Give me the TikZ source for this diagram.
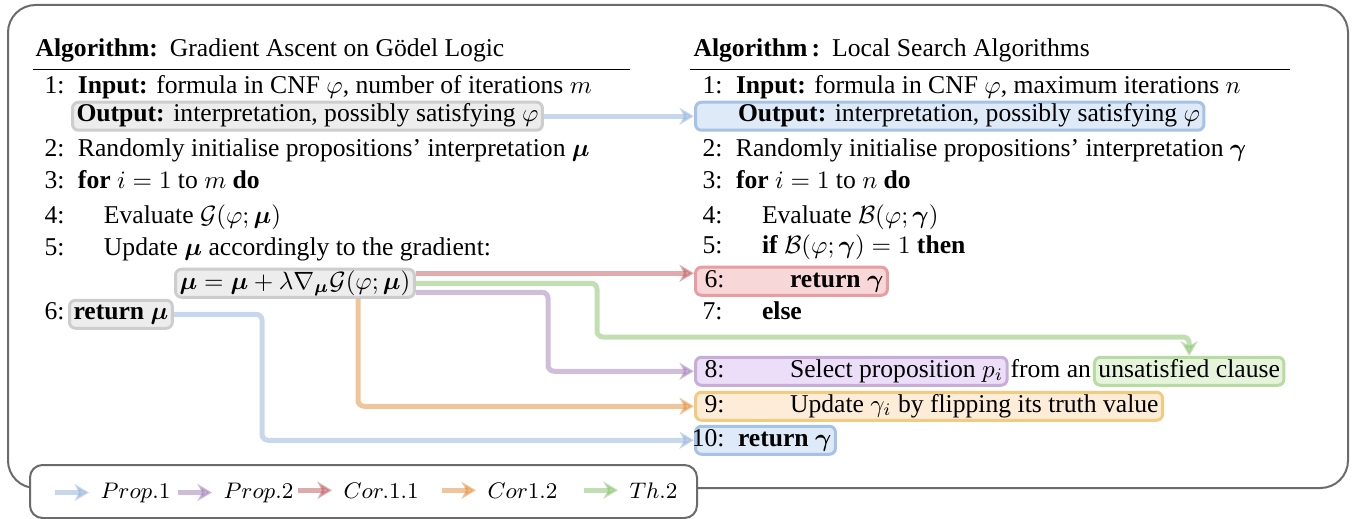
\documentclass[tikz,border=0pt]{standalone}
\usepackage{amsmath,amssymb}
\usepackage{fontspec}
\setmainfont{Liberation Serif}
\usetikzlibrary{arrows.meta,positioning}
\definecolor{Bl}{HTML}{8FB0DA}
\definecolor{Rd}{HTML}{C0575B}
\definecolor{Pu}{HTML}{A07BB5}
\definecolor{Or}{HTML}{E38C35}
\definecolor{Gr}{HTML}{86C06A}
\definecolor{Blf}{HTML}{DEEAF7}
\definecolor{Bld}{HTML}{A6C2E4}
\definecolor{Rdf}{HTML}{F8D7D9}
\definecolor{Rdd}{HTML}{E89DA1}
\definecolor{Puf}{HTML}{ECDEF8}
\definecolor{Pud}{HTML}{C7AED8}
\definecolor{Orf}{HTML}{FDECD7}
\definecolor{Ord}{HTML}{F2CB82}
\definecolor{Grf}{HTML}{E5F4DB}
\definecolor{Grd}{HTML}{B7DBA3}
\definecolor{Gyf}{HTML}{EDEDED}
\definecolor{Gyd}{HTML}{CDCDCD}
\definecolor{Fr}{HTML}{6B6B6B}
\tikzset{
  ln/.style={anchor=base west, inner sep=0pt},
  hl/.style={anchor=base west, rounded corners=2.4pt, line width=1.2pt,
    inner xsep=1.6pt, inner ysep=0.9pt, text height=7pt, text depth=2.4pt},
  hlG/.style={hl, fill=Gyf, draw=Gyd},
  hlB/.style={hl, fill=Blf, draw=Bld},
  hlR/.style={hl, fill=Rdf, draw=Rdd},
  hlP/.style={hl, fill=Puf, draw=Pud},
  hlO/.style={hl, fill=Orf, draw=Ord},
  hlV/.style={hl, fill=Grf, draw=Grd},
  link/.style={line width=2pt, opacity=.5, rounded corners=2.4pt,
    -{Stealth[length=5.8pt, width=6.8pt, inset=1.8pt]}},
  linkB/.style={link, draw=Bl},
  linkR/.style={link, draw=Rd},
  linkP/.style={link, draw=Pu},
  linkO/.style={link, draw=Or},
  linkV/.style={link, draw=Gr},
  key/.style={ln, font=\fontsize{8.6}{10}\selectfont},
  box/.style={draw=Fr, line width=0.8pt},
}
\newcommand{\stepno}[1]{\makebox[10pt][r]{#1}\hspace{5.4pt}}
\newcommand{\Ind}{\hspace{10.4pt}}
\newcommand{\bmu}{\boldsymbol{\mu}}
\newcommand{\bgam}{\boldsymbol{\gamma}}

\begin{document}
\begin{tikzpicture}[x=0.4pt, y=-0.4pt, font=\fontsize{10.25}{12}\selectfont]
  \useasboundingbox (0,0) rectangle (1354,519);
  \draw[box, rounded corners=11pt] (8,5) rectangle (1348,488);

  % gradient ascent
  \node[ln] (hdrL) at (35,57) {\textbf{Algorithm:}\hspace{4.8pt}Gradient Ascent on G\"odel Logic};
  \draw (33,70) -- (630,70);
  \node[ln] (L1) at (39,94) {\stepno{1:}\textbf{Input:} formula in CNF $\varphi$, number of iterations $m$};
  \node[hlG] (Lout) at (71,122) {\textbf{Output:} interpretation, possibly satisfying $\varphi$};
  \node[ln] (L2) at (39,157) {\stepno{2:}Randomly initialise propositions' interpretation $\bmu$};
  \node[ln] (L3) at (39,189) {\stepno{3:}\textbf{for} $i=1$ to $m$ \textbf{do}};
  \node[ln] (L4) at (39,223) {\stepno{4:}\Ind Evaluate $\mathcal{G}(\varphi;\bmu)$};
  \node[ln] (L5) at (39,256) {\stepno{5:}\Ind Update $\bmu$ accordingly to the gradient:};
  \node[hlG] (Lupd) at (174,289) {$\bmu=\bmu+\lambda\nabla_{\bmu}\mathcal{G}(\varphi;\bmu)$};
  \node[ln] (L6) at (39,320) {\stepno{6:}};
  \node[hlG] (Lret) at (68,320) {\textbf{return} $\bmu$};

  % local search
  \node[ln] (hdrR) at (693,57) {\textbf{Algorithm}\,\textbf{:}\hspace{4.8pt}Local Search Algorithms};
  \draw (690,70) -- (1290,70);
  \node[ln] (R1) at (697,94) {\stepno{1:}\textbf{Input:} formula in CNF $\varphi$, maximum iterations $n$};
  \node[hlB] (Rout) at (694,122) {\stepno{}\textbf{Output:} interpretation, possibly satisfying $\varphi$};
  \node[ln] (R2) at (697,157) {\stepno{2:}Randomly initialise propositions' interpretation $\bgam$};
  \node[ln] (R3) at (697,189) {\stepno{3:}\textbf{for} $i=1$ to $n$ \textbf{do}};
  \node[ln] (R4) at (697,223) {\stepno{4:}\Ind Evaluate $\mathcal{B}(\varphi;\bgam)$};
  \node[ln] (R5) at (697,254) {\stepno{5:}\Ind\textbf{if} $\mathcal{B}(\varphi;\bgam)=1$ \textbf{then}};
  \node[hlR] (R6) at (694,287) {\stepno{6:}\Ind\Ind\textbf{return} $\bgam$};
  \node[ln] (R7) at (697,320) {\stepno{7:}\Ind\textbf{else}};
  \node[hlP] (R8) at (694,377) {\stepno{8:}\Ind\Ind Select proposition $p_i$};
  \node[ln, right=0.6pt of R8.base east, anchor=base west] (R8b) {from an};
  \node[hlV, right=0.6pt of R8b.base east, anchor=base west] (Rcl) {unsatisfied clause};
  \node[hlO] (R9) at (694,412) {\stepno{9:}\Ind\Ind Update $\gamma_i$ by flipping its truth value};
  \node[hlB] (R10) at (694,446) {\stepno{10:}\textbf{return} $\bgam$};

  % links
  \coordinate (gA) at (597,337);
  \coordinate (pA) at (548,340);
  \coordinate (oA) at (358,350);
  \coordinate (bA) at (262,380);
  \draw[linkB] (Lout) -- (Rout);
  \draw[linkR] ([yshift=4pt]Lupd.east) -- ([yshift=4pt]Lupd.east -| R6.west);
  \draw[linkV] (Lupd.east) -| (gA) -| (Rcl.north);
  \draw[linkP] ([yshift=-3.6pt]Lupd.east) -| (pA) |- (R8.west);
  \draw[linkO] (oA |- Lupd.south) |- (R9.west);
  \draw[linkB] (Lret.east) -| (bA) |- (R10.west);

  % legend
  \draw[box, fill=white, rounded corners=5pt] (30,465) rectangle (697,518);
  \node[key] (kP1) at (100,498) {$Prop.1$};
  \node[key] (kP2) at (223,498) {$Prop.2$};
  \node[key] (kC1) at (343,498) {$Cor.1.1$};
  \node[key] (kC2) at (487,498) {$Cor1.2$};
  \node[key] (kT2) at (629,498) {$Th.2$};
  \draw[linkB] ([xshift=-18pt]kP1.west) -- ([xshift=-4.4pt]kP1.west);
  \draw[linkP] ([xshift=-18pt]kP2.west) -- ([xshift=-4.4pt]kP2.west);
  \draw[linkR] ([xshift=-18pt]kC1.west) -- ([xshift=-4.4pt]kC1.west);
  \draw[linkO] ([xshift=-18pt]kC2.west) -- ([xshift=-4.4pt]kC2.west);
  \draw[linkV] ([xshift=-18pt]kT2.west) -- ([xshift=-4.4pt]kT2.west);
\end{tikzpicture}
\end{document}
